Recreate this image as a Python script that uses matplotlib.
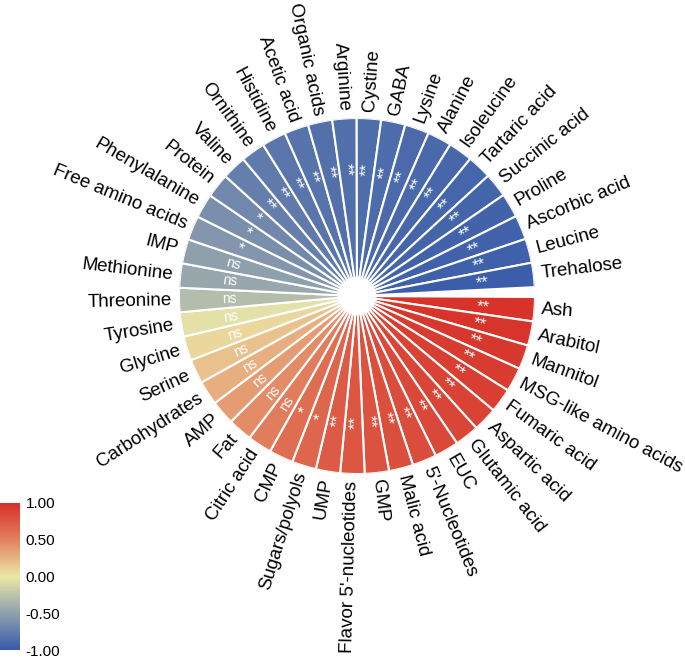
import numpy as np
import matplotlib
matplotlib.use("Agg")
import matplotlib.pyplot as plt
from matplotlib.colors import LinearSegmentedColormap, Normalize
from matplotlib.cm import ScalarMappable

plt.rcParams['font.family'] = ['Liberation Sans', 'DejaVu Sans']
plt.rcParams['axes.unicode_minus'] = False

categories = [
    "Ash", "Arabitol", "Mannitol", "MSG-like amino acids", "Fumaric acid",
    "Aspartic acid", "Glutamic acid", "EUC", "5'-Nucleotides", "Malic acid",
    "GMP", "Flavor 5'-nucleotides", "UMP", "Sugars/polyols", "CMP",
    "Citric acid", "Fat", "AMP", "Carbohydrates", "Serine", "Glycine",
    "Tyrosine", "Threonine", "Methionine", "IMP", "Free amino acids",
    "Phenylalanine", "Protein", "Valine", "Ornithine", "Histidine",
    "Acetic acid", "Organic acids", "Arginine", "Cystine", "GABA", "Lysine",
    "Alanine", "Isoleucine", "Tartaric acid", "Succinic acid", "Proline",
    "Ascorbic acid", "Leucine", "Trehalose",
]
values = [
    0.97, 0.96, 0.94, 0.92, 0.90,
    0.88, 0.86, 0.84, 0.82, 0.80,
    0.78, 0.75, 0.72, 0.66, 0.61,
    0.52, 0.44, 0.36, 0.28, 0.18, 0.08,
    -0.05, -0.30, -0.45, -0.50, -0.57,
    -0.62, -0.67, -0.74, -0.77, -0.80,
    -0.82, -0.84, -0.85, -0.86, -0.87, -0.88,
    -0.89, -0.90, -0.91, -0.92, -0.93,
    -0.94, -0.95, -0.97,
]
signif = [
    "**", "**", "**", "**", "**",
    "**", "**", "**", "**", "**",
    "**", "**", "**", "*", "*",
    "ns", "ns", "ns", "ns", "ns", "ns",
    "ns", "ns", "ns", "ns", "*",
    "*", "*", "**", "**", "**",
    "**", "**", "**", "**", "**", "**",
    "**", "**", "**", "**", "**",
    "**", "**", "**",
]
cbar_ticks = [-1.0, -0.5, 0.0, 0.5, 1.0]

cmap = LinearSegmentedColormap.from_list(
    "corr", [(0.0, "#375AAA"), (0.25, "#8FA0AD"), (0.5, "#EDE7A7"),
             (0.75, "#E2805F"), (1.0, "#D62F27")])
norm = Normalize(-1, 1)

fig = plt.figure(figsize=(6.85, 6.58), dpi=100)
ax = fig.add_axes([0.2613, 0.2796, 0.5197, 0.541], projection="polar")
ax.set_theta_zero_location("E")
ax.set_theta_direction(-1)

n = len(categories)
step = 2 * np.pi / (n + 0.4)
start = np.deg2rad(0.3)
theta = start + (np.arange(n) + 0.5) * step

ax.bar(theta, 0.9, width=step, bottom=0.1, color=cmap(norm(values)),
       edgecolor="white", linewidth=1.5, align="center")
ax.set_ylim(0, 1)
ax.set_axis_off()


def radial_rotation(th):
    rot = -np.rad2deg(th)
    rot = (rot + 180) % 360 - 180
    if -90 <= rot <= 90:
        return rot, "left"
    return rot + 180, "right"


for th, lab, sg in zip(theta, categories, signif):
    rot, ha = radial_rotation(th)
    ax.text(th, 1.04, lab, rotation=rot, rotation_mode="anchor",
            ha=ha, va="center", fontsize=13.5, color="black")
    if sg == "ns":
        ax.text(th, 0.72, sg, rotation=rot, rotation_mode="anchor",
                ha="center", va="center", fontsize=10, color="white")
    else:
        ax.text(th, 0.71, sg, rotation=rot, rotation_mode="anchor",
                ha="center", va="center_baseline", fontsize=12,
                color="white")

cax = fig.add_axes([0.0, 0.012, 0.029, 0.224])
cb = fig.colorbar(ScalarMappable(norm=norm, cmap=cmap), cax=cax,
                  ticks=cbar_ticks)
cb.outline.set_visible(False)
cb.ax.tick_params(length=0, labelsize=11, pad=4)
cb.ax.set_yticklabels([f"{t:.2f}" for t in cbar_ticks])

fig.savefig("out.png", dpi=100, facecolor="white")
